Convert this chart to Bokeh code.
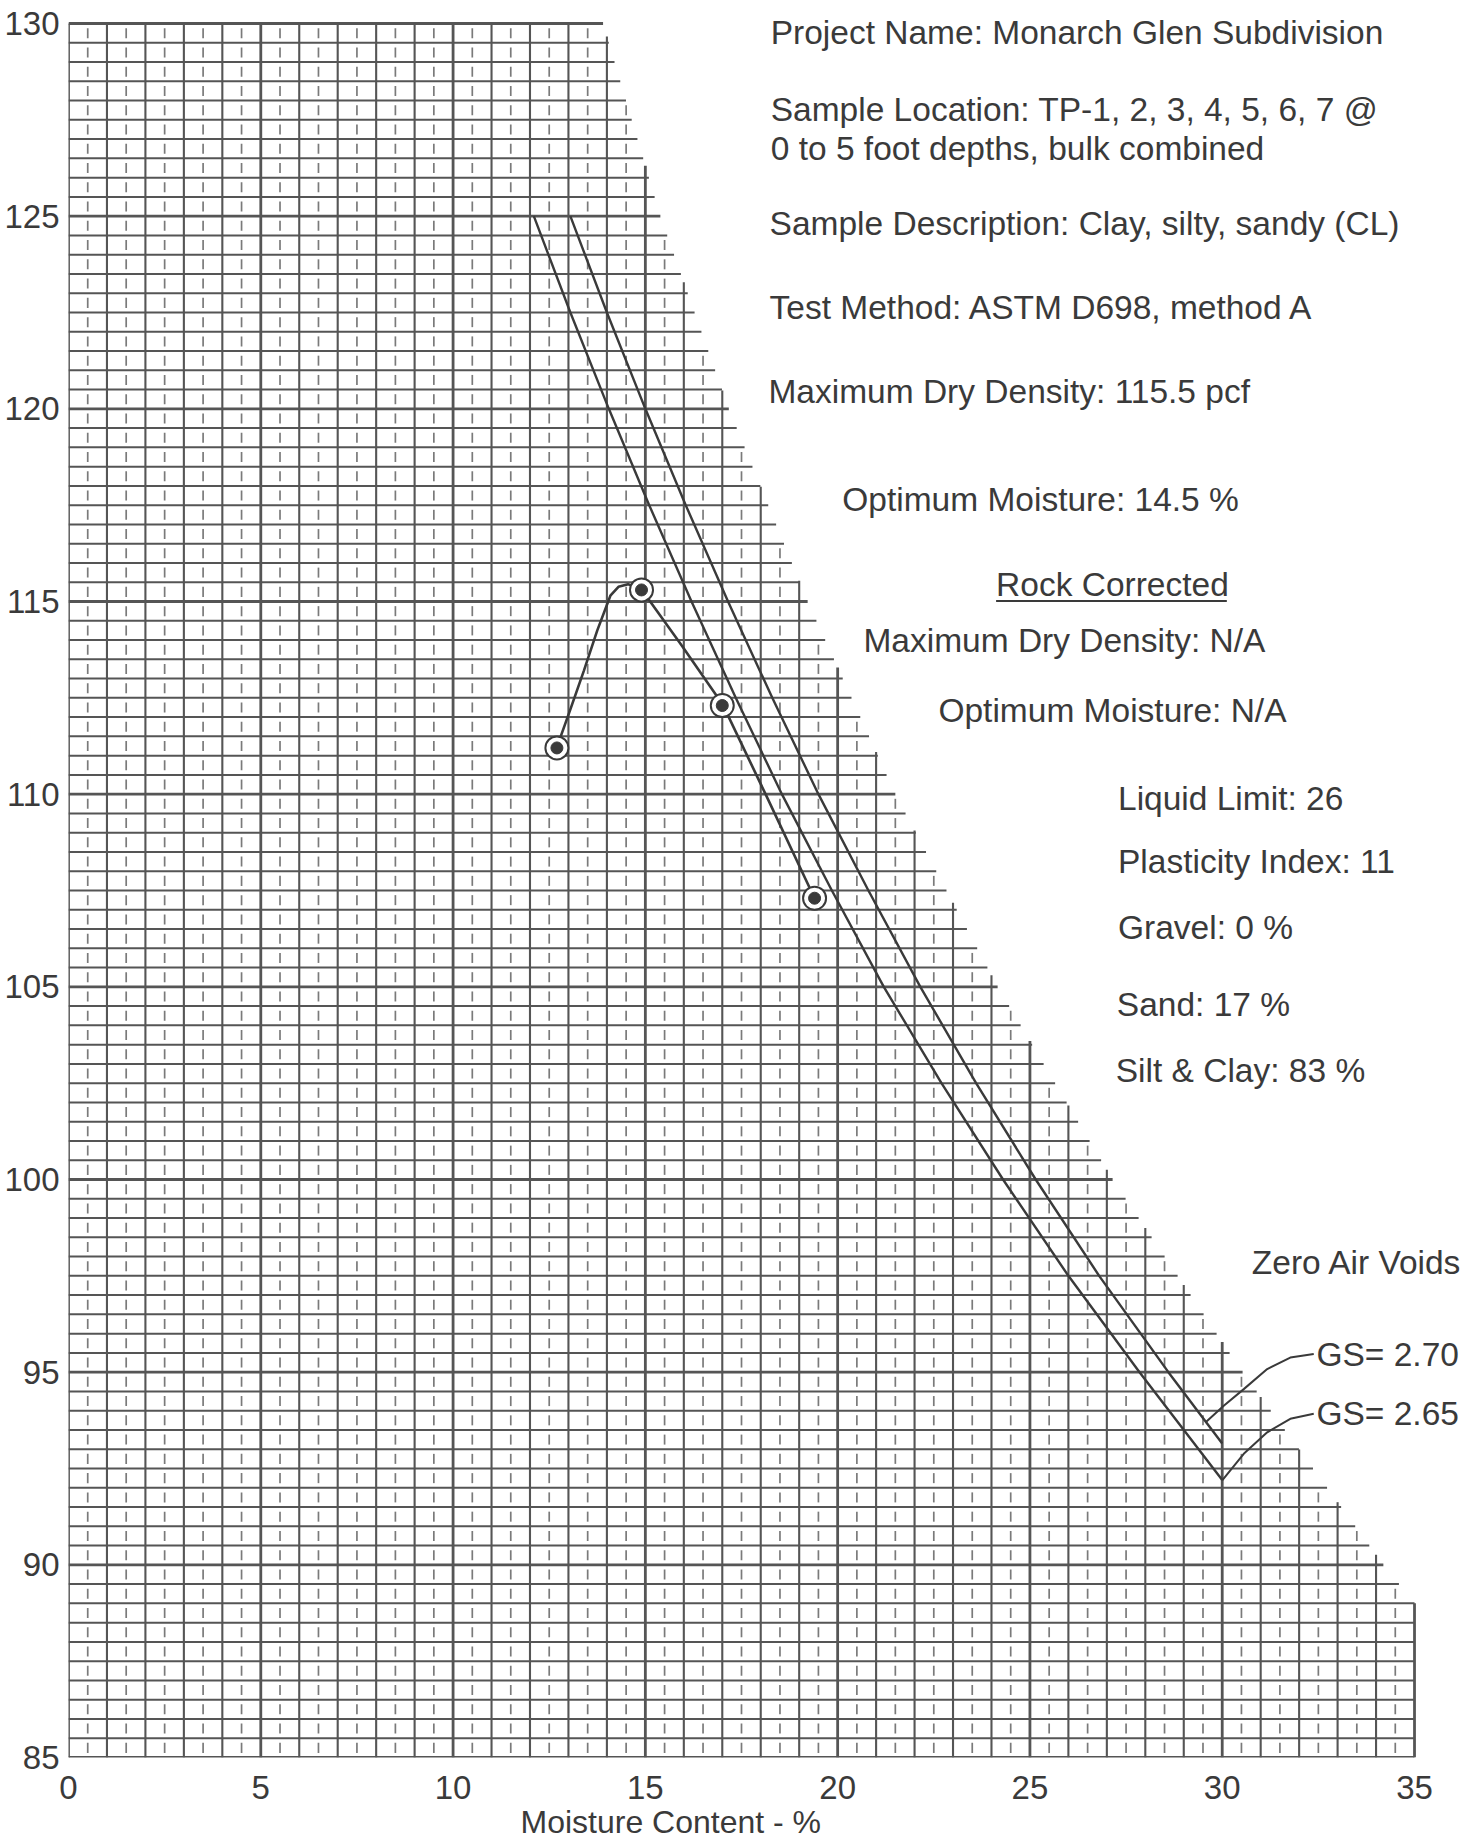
import numpy as np
from bokeh.plotting import figure
from bokeh.models import Range1d, FixedTicker, Label, Title
from bokeh.embed import file_html
from bokeh.resources import INLINE

# ---------------- data ----------------
# compaction test points (moisture %, dry density pcf)
moisture = [12.7, 14.9, 17.0, 19.4]
dry_density = [111.2, 115.3, 112.3, 107.3]

# fitted compaction curve
curve_moisture = [12.70, 13.05, 13.40, 13.75, 14.09, 14.30, 14.55, 14.91, 15.95, 17.01, 18.15, 19.39]
curve_density = [111.22, 112.20, 113.20, 114.25, 115.15, 115.38, 115.45, 115.30, 113.85, 112.33, 109.95, 107.32]

# zero air voids lines
zav265_density = [125.0, 122.5, 120.0, 117.5, 115.0, 112.5, 110.0, 107.5, 105.0, 102.5, 100.0, 97.5, 95.0, 92.2]
zav265_moisture = [12.1, 13.05, 14.05, 15.1, 16.2, 17.35, 18.55, 19.85, 21.2, 22.7, 24.3, 26.0, 27.85, 30.0]
zav270_density = [125.0, 122.5, 120.0, 117.5, 115.0, 112.5, 110.0, 107.5, 105.0, 102.5, 100.0, 97.5, 95.0, 93.15]
zav270_moisture = [13.05, 14.0, 15.0, 16.05, 17.15, 18.3, 19.5, 20.8, 22.15, 23.6, 25.15, 26.8, 28.6, 30.0]

# leader lines from the GS labels
leader270_x = [32.38, 31.77, 31.17, 30.56, 30.04, 29.57]
leader270_y = [95.47, 95.38, 95.08, 94.56, 94.13, 93.70]
leader265_x = [32.38, 31.77, 31.17, 30.56, 30.0]
leader265_y = [93.92, 93.79, 93.44, 92.88, 92.19]

x_ticks = [0, 5, 10, 15, 20, 25, 30, 35]
y_ticks = [85, 90, 95, 100, 105, 110, 115, 120, 125, 130]
x_title = "Moisture Content - %"

# printed grid boundary (staircase edge of the graph paper)
grid_edge_density = [85, 89, 90, 95, 100, 105, 110, 115, 120, 125, 130]
grid_edge_moisture = [35, 35, 34.19, 30.53, 27.15, 24.16, 21.5, 19.22, 17.17, 15.39, 13.9]

info_texts = [
    "Project Name: Monarch Glen Subdivision",
    "Sample Location: TP-1, 2, 3, 4, 5, 6, 7 @",
    "0 to 5 foot depths, bulk combined",
    "Sample Description: Clay, silty, sandy (CL)",
    "Test Method:  ASTM D698, method A",
    "Maximum Dry Density:  115.5 pcf",
    "Optimum Moisture:  14.5 %",
    "Rock Corrected",
    "Maximum Dry Density: N/A",
    "Optimum Moisture: N/A",
    "Liquid Limit: 26",
    "Plasticity Index: 11",
    "Gravel: 0 %",
    "Sand: 17 %",
    "Silt & Clay: 83 %",
    "Zero Air Voids",
    "GS= 2.70",
    "GS= 2.65",
]
info_x = [18.26, 18.26, 18.26, 18.23, 18.23, 18.20, 20.12, 24.12, 20.67, 22.62,
          27.29, 27.29, 27.29, 27.26, 27.23, 30.77, 32.45, 32.45]
info_y = [129.77, 127.76, 126.76, 124.81, 122.64, 120.45, 117.65, 115.45, 113.99, 112.16,
          109.88, 108.26, 106.53, 104.54, 102.84, 97.84, 95.47, 93.94]

# ---------------- figure ----------------
INK = "#3a3a3a"
GRID = "#555555"

# the frame reaches the top edge of the canvas so that the top text line is not clipped;
# 130 pcf still sits 23 px below the top
p = figure(width=1484, height=1841, output_backend="svg", toolbar_location=None,
           x_range=Range1d(0, 36.82), y_range=Range1d(85, 130.597),
           min_border_left=68, min_border_right=0, min_border_top=0, min_border_bottom=84)
p.outline_line_color = None
p.grid.visible = False
p.background_fill_color = "white"
p.border_fill_color = "white"

for ax, ticks in ((p.xaxis, x_ticks), (p.yaxis, y_ticks)):
    ax.ticker = FixedTicker(ticks=ticks)
    ax.axis_line_color = None
    ax.major_tick_line_color = None
    ax.minor_tick_line_color = None
    ax.major_label_text_font = "Liberation Sans"
    ax.major_label_text_font_size = "33px"
    ax.major_label_text_color = INK
p.xaxis.major_label_standoff = 12
p.yaxis.major_label_standoff = 3

# x-axis title, placed below the tick labels and shifted to sit under 0-35
p.add_layout(Title(text=x_title, align="left", offset=452, standoff=0,
                   text_font="Liberation Sans", text_font_size="32px",
                   text_font_style="normal", text_color=INK), "below")

# ---------------- graph paper grid ----------------
ey = np.array(grid_edge_density, float)
ex = np.array(grid_edge_moisture, float)
rows = np.arange(y_ticks[0], y_ticks[-1] + 0.001, 0.5)
row_end = np.interp(rows, ey, ex)
major_r = (np.round(rows * 2) % 10) == 0
p.segment(x0=0, y0=rows[~major_r], x1=row_end[~major_r], y1=rows[~major_r],
          line_color=GRID, line_width=2)
p.segment(x0=0, y0=rows[major_r], x1=row_end[major_r], y1=rows[major_r],
          line_color=GRID, line_width=2.8)

inv_x = ex[1:][::-1]
inv_y = ey[1:][::-1]
cols = np.arange(x_ticks[0], x_ticks[-1] + 0.001, 1.0)
col_top = np.interp(cols, inv_x, inv_y, left=y_ticks[-1], right=inv_y[-1])
major_c = (cols % 5) == 0
p.segment(x0=cols[~major_c], y0=y_ticks[0], x1=cols[~major_c], y1=col_top[~major_c],
          line_color=GRID, line_width=2.1)
p.segment(x0=cols[major_c], y0=y_ticks[0], x1=cols[major_c], y1=col_top[major_c],
          line_color=GRID, line_width=2.8)

# dashed half-percent lines: a short dash centred in each cell
half = np.arange(0.5, x_ticks[-1], 1.0)
half_top = np.interp(half, inv_x, inv_y, left=y_ticks[-1], right=inv_y[-1])
dx, dy0, dy1 = [], [], []
for hx, top in zip(half, half_top):
    for r in rows[:-1]:
        if r + 0.4 <= top:
            dx.append(hx)
            dy0.append(r + 0.12)
            dy1.append(r + 0.38)
p.segment(x0=dx, y0=dy0, x1=dx, y1=dy1, line_color="#7a7a7a", line_width=1.7)

# ---------------- curves ----------------
p.line(zav265_moisture, zav265_density, line_color=INK, line_width=2.4)
p.line(zav270_moisture, zav270_density, line_color=INK, line_width=2.4)
p.line(leader270_x, leader270_y, line_color=INK, line_width=2)
p.line(leader265_x, leader265_y, line_color=INK, line_width=2)
p.line(curve_moisture, curve_density, line_color=INK, line_width=2.6)

p.scatter(moisture, dry_density, marker="circle", size=23, fill_color="white",
          line_color=INK, line_width=2)
p.scatter(moisture, dry_density, marker="circle", size=12, fill_color=INK,
          line_color=INK, line_width=1)

# ---------------- text ----------------
for t, x, y in zip(info_texts, info_x, info_y):
    p.add_layout(Label(x=x, y=y, text=t, text_align="left", text_baseline="middle",
                       text_font="Liberation Sans", text_font_size="33.5px",
                       text_color=INK))

# underline of "Rock Corrected"
p.segment(x0=[info_x[7]], y0=[info_y[7] - 0.44], x1=[info_x[7] + 6.0], y1=[info_y[7] - 0.44],
          line_color=INK, line_width=2)

open("out.html", "w").write(file_html(p, INLINE))
